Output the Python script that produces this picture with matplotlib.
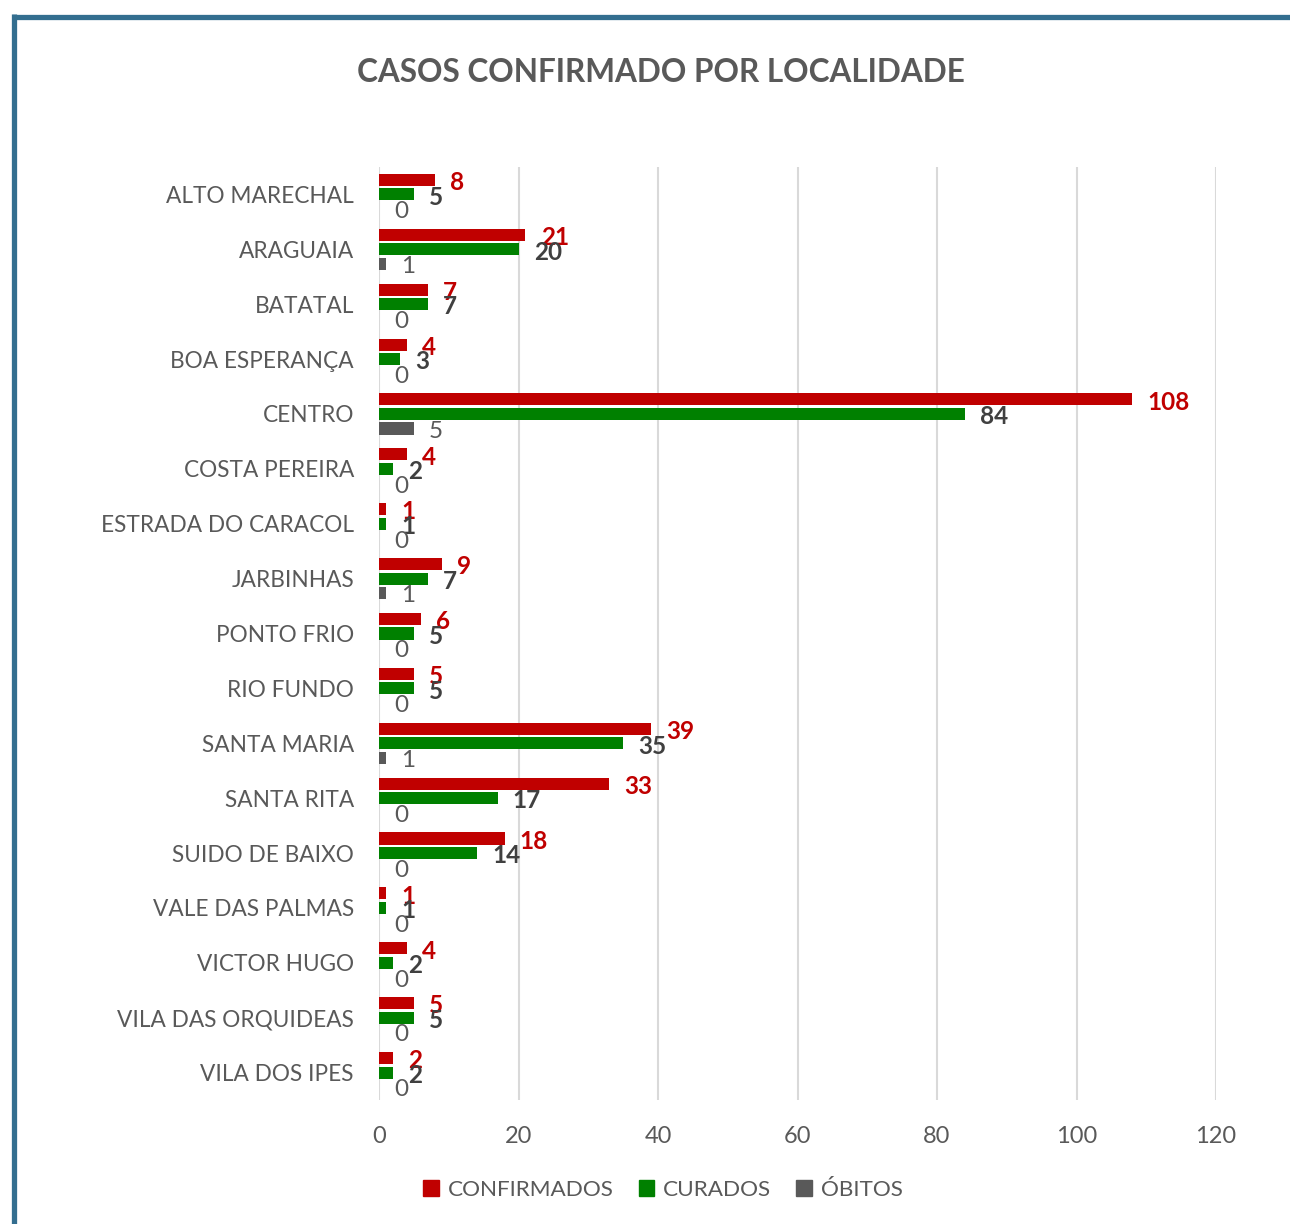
import numpy as np
import matplotlib.pyplot as plt
from matplotlib.lines import Line2D
from matplotlib.patches import Patch

plt.rcParams['font.family'] = ['Lato', 'DejaVu Sans']

localidades = ['ALTO MARECHAL', 'ARAGUAIA', 'BATATAL', 'BOA ESPERANÇA', 'CENTRO',
               'COSTA PEREIRA', 'ESTRADA DO CARACOL', 'JARBINHAS', 'PONTO FRIO',
               'RIO FUNDO', 'SANTA MARIA', 'SANTA RITA', 'SUIDO DE BAIXO',
               'VALE DAS PALMAS', 'VICTOR HUGO', 'VILA DAS ORQUIDEAS', 'VILA DOS IPES']
confirmados = [8, 21, 7, 4, 108, 4, 1, 9, 6, 5, 39, 33, 18, 1, 4, 5, 2]
curados = [5, 20, 7, 3, 84, 2, 1, 7, 5, 5, 35, 17, 14, 1, 2, 5, 2]
obitos = [0, 1, 0, 0, 5, 0, 0, 1, 0, 0, 1, 0, 0, 0, 0, 0, 0]
x_ticks = [0, 20, 40, 60, 80, 100, 120]

series = [
    ('CONFIRMADOS', confirmados, '#C00000', '#C00000', 'bold'),
    ('CURADOS', curados, '#008000', '#404040', 'bold'),
    ('ÓBITOS', obitos, '#595959', '#595959', 'normal'),
]

fig = plt.figure(figsize=(12.9, 12.24), dpi=100)
ax = fig.add_axes([379 / 1290, 1 - 1100 / 1224, (1216 - 379) / 1290, (1100 - 167) / 1224])

y = np.arange(len(localidades))
h = 0.22
step = 0.265
for i, (name, vals, col, lcol, lw) in enumerate(series):
    pos = y + (i - 1) * step
    ax.barh(pos, vals, height=h, color=col, label=name, zorder=3)
    for p, v in zip(pos, vals):
        ax.annotate(str(v), (v, p), xytext=(11, -2), textcoords='offset points',
                    ha='left', va='center', fontsize=17.5, color=lcol, fontweight=lw,
                    zorder=4)

ax.set_xlim(0, 120)
ax.set_ylim(len(localidades) - 0.5, -0.5)
ax.set_xticks(x_ticks)
ax.set_yticks(y)
ax.set_yticklabels(localidades)
ax.tick_params(axis='both', length=0, colors='#595959')
ax.tick_params(axis='y', pad=18, labelsize=16.3)
ax.tick_params(axis='x', pad=19, labelsize=17)
ax.grid(axis='x', color='#D9D9D9', linewidth=1.5, zorder=0)
for s in ax.spines.values():
    s.set_visible(False)

fig.text(661 / 1290, 1 - 72 / 1224, 'CASOS CONFIRMADO POR LOCALIDADE', ha='center',
         va='center', fontsize=22.7, fontweight='bold', color='#595959')

handles = [Patch(color=c, label=n) for n, _, c, _, _ in series]
fig.legend(handles=handles, loc='center', bbox_to_anchor=(663 / 1290, 1 - 1190 / 1224),
           ncol=3, frameon=False, fontsize=16.2, handlelength=0.7, handleheight=0.7,
           handletextpad=0.4, columnspacing=1.1, labelcolor='#595959')

# moldura azul (esquerda e topo)
bc = '#336E8F'
fig.add_artist(Line2D([13.5 / 1290, 13.5 / 1290], [0, 1 - 14 / 1224], color=bc,
                      linewidth=3.8, transform=fig.transFigure, solid_capstyle='butt'))
fig.add_artist(Line2D([11.5 / 1290, 1], [1 - 16.5 / 1224, 1 - 16.5 / 1224], color=bc,
                      linewidth=3.8, transform=fig.transFigure, solid_capstyle='butt'))

fig.savefig('out.png', dpi=100)
